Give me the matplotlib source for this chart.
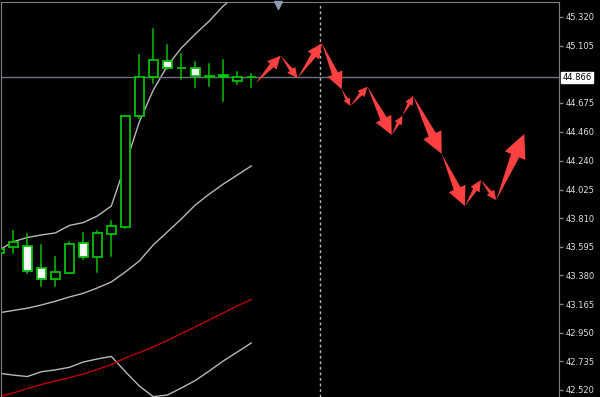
import numpy as np
import matplotlib
matplotlib.use("Agg")
import matplotlib.pyplot as plt
from matplotlib.patches import Rectangle, Polygon
from matplotlib.transforms import blended_transform_factory

# candles, one per bar index
bars = list(range(19))
opens = [43.546, 43.596, 43.603, 43.438, 43.355, 43.396, 43.621, 43.521, 43.691, 43.746,
         44.579, 44.872, 44.992, 44.936, 44.939, 44.877, 44.882, 44.842, 44.869]
highs = [43.580, 43.714, 43.689, 43.608, 43.516, 43.633, 43.696, 43.714, 43.789, 44.579,
         45.035, 45.230, 45.110, 45.042, 44.980, 44.967, 44.997, 44.907, 44.892]
lows = [43.540, 43.546, 43.400, 43.303, 43.303, 43.396, 43.503, 43.403, 43.528, 43.736,
        44.559, 44.822, 44.930, 44.852, 44.792, 44.802, 44.692, 44.815, 44.792]
closes = [43.578, 43.629, 43.415, 43.355, 43.408, 43.616, 43.521, 43.696, 43.751, 44.579,
          44.867, 44.995, 44.935, 44.940, 44.877, 44.866, 44.870, 44.867, 44.866]

# indicator lines
band_top = [43.571, 43.633, 43.665, 43.684, 43.699, 43.755, 43.777, 43.826, 43.901, 44.209,
            44.532, 44.772, 44.952, 45.087, 45.192, 45.290, 45.403, 45.493, 45.575]
band_mid = [43.100, 43.117, 43.134, 43.158, 43.186, 43.218, 43.246, 43.286, 43.331, 43.406,
            43.488, 43.609, 43.706, 43.804, 43.909, 43.991, 44.066, 44.134, 44.202]
band_low = [42.645, 42.632, 42.621, 42.657, 42.671, 42.690, 42.730, 42.753, 42.772, 42.658,
            42.550, 42.470, 42.482, 42.535, 42.591, 42.663, 42.738, 42.805, 42.873]
ma_red = [42.470, 42.498, 42.531, 42.561, 42.588, 42.612, 42.640, 42.674, 42.711, 42.760,
          42.801, 42.843, 42.892, 42.944, 42.993, 43.046, 43.098, 43.151, 43.199]

# forecast path (arrows)
fc_x = [18.31, 20.1, 21.3, 23.05, 24.46, 25.07, 26.3, 28.03, 28.8, 29.57, 31.6, 33.26, 34.4, 35.5, 37.5]
fc_y = [44.822, 45.030, 44.860, 45.123, 44.777, 44.652, 44.797, 44.434, 44.579, 44.727,
        44.292, 43.901, 44.096, 43.946, 44.442]

price_ticks = [45.320, 45.105, 44.675, 44.460, 44.240, 44.025, 43.810, 43.595,
               43.380, 43.165, 42.950, 42.735, 42.520]
last_price = 44.866
shift_x = 22.9
shift_marker_x = 19.9

GREEN = "#00c000"
SILVER = "#b8b8b8"
DARKRED = "#c00000"
ARROW_RED = "#ff4040"
FRAME = "#808080"


def draw_arrow(ax, x0, y0, x1, y1):
    # arrow shape is built in pixels so it is not skewed by the axis scales
    tr = ax.transData
    a = tr.transform((x0, y0))
    b = tr.transform((x1, y1))
    d = b - a
    length = np.hypot(*d)
    u = d / length
    n = np.array([-u[1], u[0]])
    head_len = 0.3 * length + 2
    head_w = head_len * 0.95
    tail_w = head_w * 0.4
    base = b - u * head_len
    pts = [a, base + n * tail_w / 2, base + n * head_w / 2, b,
           base - n * head_w / 2, base - n * tail_w / 2]
    pts = tr.inverted().transform(pts)
    ax.add_patch(Polygon(pts, closed=True, facecolor=ARROW_RED, lw=0, zorder=5))


fig = plt.figure(figsize=(6, 3.97), dpi=100, facecolor="black")
ax = fig.add_axes([1 / 600, 0, 558 / 600, 395 / 397], facecolor="black")
ax.set_xlim(0.121, 39.98)
ax.set_ylim(42.4674, 45.4326)

# candles
for i, o, h, l, c in zip(bars, opens, highs, lows, closes):
    ax.plot([i, i], [l, h], color=GREEN, lw=1.1, zorder=2)
    bottom = min(o, c)
    height = abs(c - o)
    face = "white" if c < o else "black"
    ax.add_patch(Rectangle((i - 0.33, bottom), 0.66, height, facecolor=face,
                           edgecolor=GREEN, lw=1.3, zorder=3))

ax.plot(bars, band_top, color=SILVER, lw=1, zorder=1)
ax.plot(bars, band_mid, color=SILVER, lw=1, zorder=1)
ax.plot(bars, band_low, color=SILVER, lw=1, zorder=1)
ax.plot(bars, ma_red, color=DARKRED, lw=1, zorder=1)

ax.axhline(last_price, color="#6a7480", lw=1, zorder=1.5)
ax.axvline(shift_x, color=SILVER, lw=1, ls=(0, (2, 2)), zorder=1)

for k in range(len(fc_x) - 1):
    draw_arrow(ax, fc_x[k], fc_y[k], fc_x[k + 1], fc_y[k + 1])

ax.plot([shift_marker_x], [45.41], marker="v", color="#8a9ab0", markersize=6,
        clip_on=False, zorder=6)

# frame and right price scale
for side in ["left", "top", "right"]:
    ax.spines[side].set_color(FRAME)
ax.spines["bottom"].set_visible(False)
ax.set_xticks([])
ax.yaxis.tick_right()
ax.set_yticks(price_ticks)
ax.set_yticklabels([f"{p:.3f}" for p in price_ticks])
ax.tick_params(axis="y", colors=FRAME, labelcolor="#e0e0e0", labelsize=6,
               length=3, width=1, pad=2)

tb = blended_transform_factory(ax.transAxes, ax.transData)
ax.text(1.006, last_price, f"{last_price:.3f}", transform=tb, fontsize=6, color="black",
        va="center", ha="left",
        bbox=dict(boxstyle="square,pad=0.15", facecolor="white", edgecolor="white"))

fig.savefig("out.png", dpi=100, facecolor="black")
